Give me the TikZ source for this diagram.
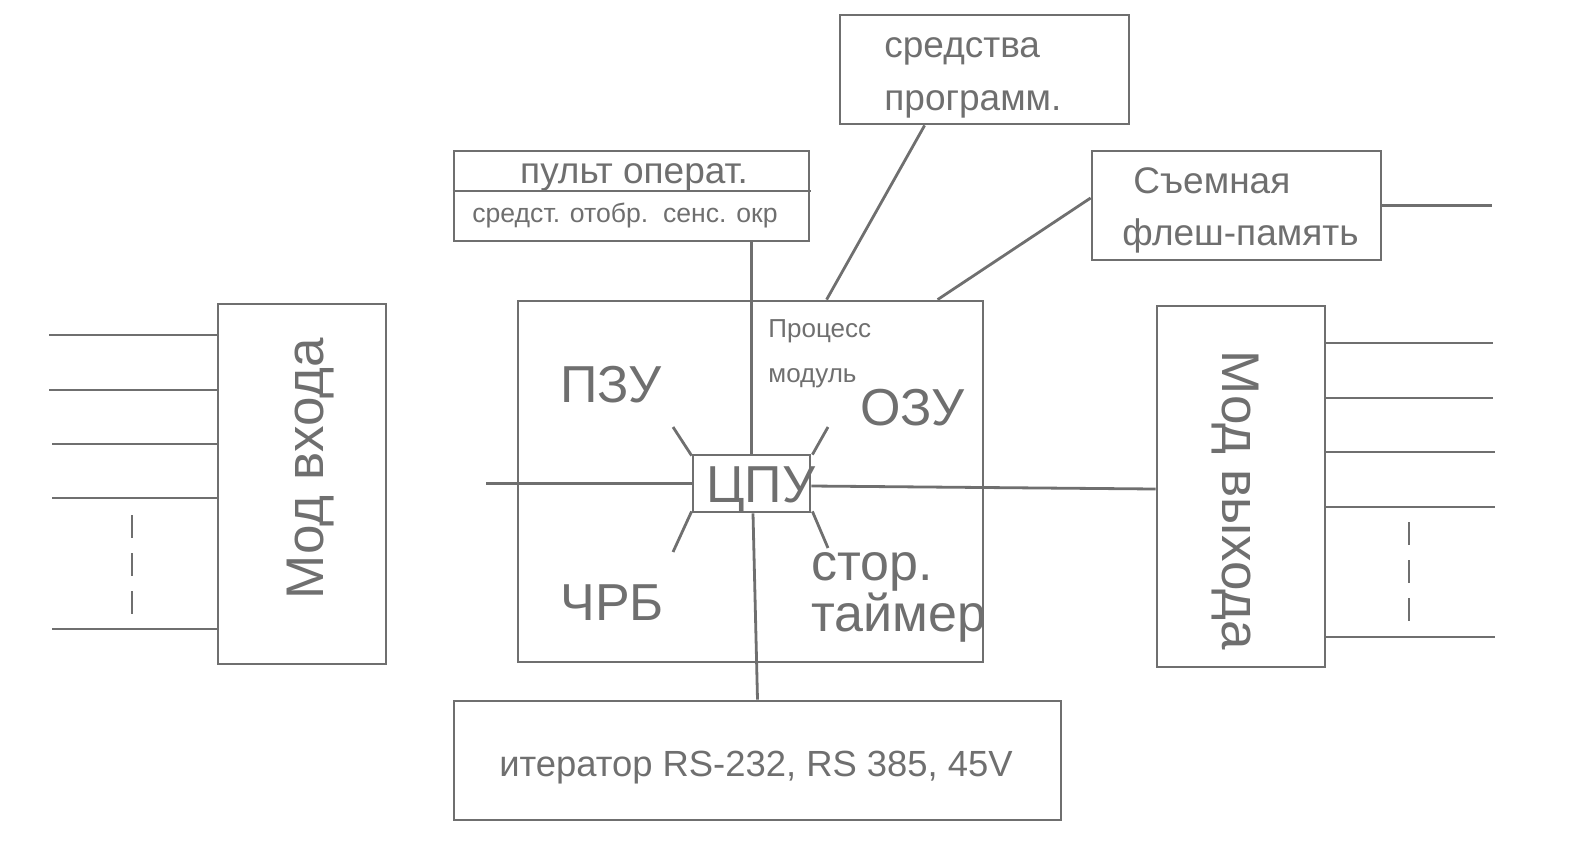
\documentclass[tikz,border=0pt]{standalone}
\usepackage{fontspec}
\setmainfont{Liberation Sans}
\usetikzlibrary{calc}
\definecolor{gc}{HTML}{6F6F6F}
\tikzset{
  ln/.style={draw=gc, line width=1.4pt},
  box/.style={draw=gc, line width=1.4pt, inner sep=0pt, rectangle},
  txt/.style={text=gc, inner sep=0pt},
  big/.style={txt, font=\fontsize{26}{30}\selectfont},
  vbig/.style={txt, font=\fontsize{26.5}{30}\selectfont},
  mid/.style={txt, font=\fontsize{18.5}{22}\selectfont},
  sml/.style={txt, font=\fontsize{13}{16}\selectfont},
  dsh/.style={ln, dash pattern=on 11.5pt off 7.5pt}
}
\begin{document}
\begin{tikzpicture}[x=0.5pt,y=-0.5pt]
\useasboundingbox (0,0) rectangle (1570,858);
% boxes
\node[box, minimum width=144.5pt, minimum height=54.5pt] (sred) at (984.5,69.5) {};
\node[box, minimum width=177.5pt, minimum height=45pt] (pult) at (631.5,196) {};
\node[box, minimum width=144.5pt, minimum height=54.5pt] (flash) at (1236.5,205.5) {};
\node[box, minimum width=232.5pt, minimum height=180.5pt] (proc) at (750.5,481.5) {};
\node[box, minimum width=58.5pt, minimum height=28.5pt] (cpu) at (751.5,483.5) {};
\node[box, minimum width=303.5pt, minimum height=59.5pt] (iter) at (757.5,760.5) {};
\node[box, minimum width=84pt, minimum height=180pt] (modin) at (302,484) {};
\node[box, minimum width=84pt, minimum height=180.5pt] (modout) at (1241,486.5) {};
% pult divider
\coordinate (pd) at (811,191);
\draw[ln] (pult.west |- pd) -- (pd);
% texts
\node[mid, anchor=base west] (t1) at (884,57) {средства};
\node[mid, anchor=base west] (t2) at (884,110) {программ.};
\node[mid, anchor=base] (t3) at (634,183) {пульт операт.};
\node[sml, font=\fontsize{13.3}{16}\selectfont, anchor=base west] (t4) at (472,222) {средст. отобр.\ \ сенс. окр};
\node[mid, anchor=base west] (t5) at (1133,193) {Съемная};
\node[mid, anchor=base west] (t6) at (1122,245) {флеш-память};
\node[sml, anchor=base west] (t7) at (768,337) {Процесс};
\node[sml, anchor=base west] (t8) at (768,382) {модуль};
\node[big, anchor=base west] (pzu) at (560,402) {ПЗУ};
\node[big, anchor=base west] (ozu) at (860,425) {ОЗУ};
\node[big, anchor=base west] (chrb) at (560,620) {ЧРБ};
\node[big, anchor=base west, text depth=0pt] (stor) at (811,580) {стор.};
\node[big, anchor=base west, text height=9pt] (taim) at (811,631) {таймер};
\node[big, anchor=base west] (cput) at (706,502) {ЦПУ};
\node[mid, font=\fontsize{18.2}{22}\selectfont, anchor=base] (t9) at (756,776) {итератор RS-232, RS 385, 45V};
\node[vbig, anchor=base west, rotate=90] (tin) at (323,600) {Мод входа};
\node[vbig, anchor=base west, rotate=-90] (tout) at (1222,350) {Мод выхода};
% connectors
\draw[ln] (cpu.north) -- (cpu.north |- pult.south);
\draw[ln] ([xshift=43pt]sred.south west) -- ([xshift=155pt]proc.north west);
\draw[ln] ([yshift=3.75pt]flash.west) -- ([xshift=210.5pt]proc.north west);
\coordinate (fe) at (1492,205.5);
\draw[ln] (flash.east) -- (fe);
\coordinate (cl) at (486,483.5);
\draw[ln] (cpu.west) -- (cl);
\draw[ln] ([yshift=-1.25pt]cpu.east) -- ([yshift=-1.25pt]modout.west);
\draw[ln] ([xshift=0.75pt]cpu.south) -- (iter.north);
% spokes
\coordinate (s1) at (673,427);
\coordinate (s2) at (828,427);
\coordinate (s3) at (673,552);
\coordinate (s4) at (828,548);
\draw[ln] ([yshift=-1pt]cpu.north west) -- (s1);
\draw[ln] ([xshift=0.5pt,yshift=-0.5pt]cpu.north east) -- (s2);
\draw[ln] ([yshift=1pt]cpu.south west) -- (s3);
\draw[ln] ([xshift=0.5pt,yshift=1pt]cpu.south east) -- (s4);
% input lines
\foreach \y/\x [count=\i] in {335/49,390/49,444/52,498/52,629/52} {
  \coordinate (in\i) at (\x,\y);
  \draw[ln] (in\i) -- (modin.west |- in\i);
}
\coordinate (da) at (132,515);
\coordinate (db) at (132,615);
\draw[dsh] (da) -- (db);
% output lines
\foreach \y/\x [count=\i] in {343/1493,398/1493,452/1495,507/1495,637/1495} {
  \coordinate (out\i) at (\x,\y);
  \draw[ln] (modout.east |- out\i) -- (out\i);
}
\coordinate (dc) at (1409,522);
\coordinate (dd) at (1409,623);
\draw[dsh] (dc) -- (dd);
\end{tikzpicture}
\end{document}
